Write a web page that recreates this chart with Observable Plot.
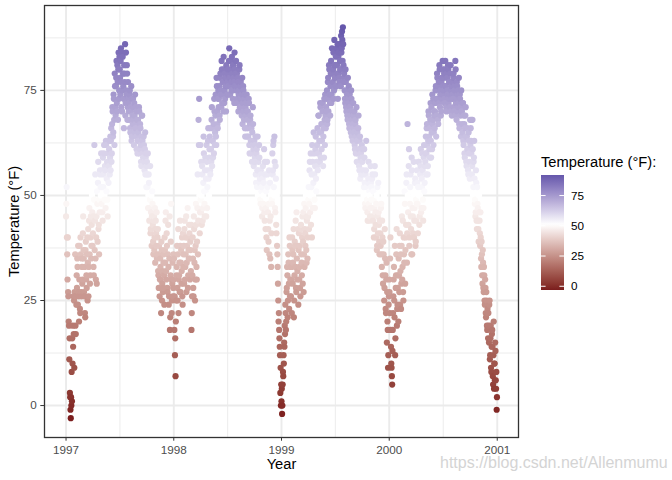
<!DOCTYPE html>
<html>
<head>
<meta charset="utf-8">
<script src="https://cdn.jsdelivr.net/npm/d3@7"></script>
<script src="https://cdn.jsdelivr.net/npm/@observablehq/plot@0.6"></script>
<style>
  html, body { margin: 0; padding: 0; background: #ffffff; }
  #wrap { position: relative; width: 672px; height: 480px; overflow: hidden;
          font-family: "Liberation Sans", Arial, Helvetica, sans-serif; }
  #wrap svg { position: absolute; left: 0; top: 0; }
</style>
</head>
<body>
<div id="wrap"></div>
<script>
// ---- Data: daily mean temperature (°F), Chicago 1997-2000 ----
// "even" arrays: days 0,2,4,... of each year; "odd" arrays: days 1,3,5,...
const years = [1997, 1998, 1999, 2000];

const t1997 = [
  45, 52, 36, 40, 26, 19, 16, 2, -3, 0, 1, 10, 14, 17, 9, 26,          // Jan
  19, 26, 31, 35, 24, 27, 20, 38, 22, 36, 26, 33, 30, 45,              // Feb
  35, 26, 22, 37, 30, 28, 40, 34, 26, 44, 36, 31, 45, 38, 50,          // Mar
  38, 45, 31, 62, 44, 35, 40, 29, 48, 53, 42, 36, 46, 55, 50,          // Apr
  48, 56, 44, 52, 60, 50, 57, 47, 62, 54, 49, 58, 53, 61, 55, 64,      // May
  63, 58, 67, 70, 65, 73, 62, 76, 69, 78, 72, 81, 68, 84, 75,          // Jun
  80, 74, 85, 77, 70, 83, 76, 66, 79, 86, 72, 75, 81, 68, 77,          // Jul
  72, 68, 75, 65, 70, 63, 73, 67, 71, 62, 69, 74, 66, 64, 70, 60,      // Aug
  68, 63, 70, 61, 66, 58, 64, 69, 60, 57, 62, 56, 65, 59, 52,          // Sep
  58, 52, 47, 55, 44, 49, 41, 46, 38, 51, 43, 36, 45, 40, 34,          // Oct
  44, 38, 35, 40, 32, 28, 36, 30, 33, 22, 37, 29, 27, 34, 31,          // Nov
  40, 34, 46, 30, 38, 27, 43, 24, 35, 18, 31, 48, 22, 29, 26, 36       // Dec
];
const t1997odd = [
  48, 40, 30, 27, 20, 11, 3, -1, 2, 8, 16, 19, 26, 25, 27, 36,         // Jan
  17, 24, 28, 33, 38, 26, 30, 23, 40, 27, 35, 29, 41, 37,              // Feb
  27, 33, 21, 39, 31, 36, 25, 42, 33, 47, 29, 40, 35, 43, 46,          // Mar
  41, 33, 49, 37, 55, 30, 45, 51, 39, 58, 43, 49, 56, 52, 60,          // Apr
  52, 46, 59, 55, 62, 49, 56, 63, 51, 58, 45, 60, 57, 63, 59, 56,      // May
  66, 60, 71, 64, 74, 68, 79, 71, 76, 82, 70, 77, 80, 73, 83,          // Jun
  78, 82, 71, 84, 75, 79, 73, 81, 77, 69, 84, 74, 79, 71, 73,          // Jul
  70, 74, 66, 71, 76, 64, 69, 73, 68, 72, 65, 67, 71, 61, 68, 63,      // Aug
  65, 71, 60, 67, 62, 57, 69, 63, 59, 64, 58, 61, 55, 60, 57,          // Sep
  55, 60, 50, 53, 47, 57, 42, 50, 45, 48, 39, 44, 37, 47, 42,          // Oct
  41, 46, 36, 42, 31, 38, 26, 35, 30, 39, 25, 32, 28, 36, 24,          // Nov
  37, 44, 32, 41, 28, 36, 33, 26, 45, 21, 39, 30, 25, 34, 28           // Dec
];
const t1998 = [
  30, 18, 12, 7, 25, 33, 28, 36, 22, 31, 27, 38, 34, 29, 40, 24,       // Jan
  33, 38, 42, 30, 36, 45, 34, 40, 28, 37, 43, 35, 39, 32,              // Feb
  18, 26, 40, 28, 45, 34, 25, 38, 43, 30, 47, 36, 68, 73, 41,          // Mar
  62, 46, 50, 57, 44, 53, 60, 48, 56, 51, 45, 58, 52, 63, 54,          // Apr
  59, 64, 55, 61, 68, 57, 63, 66, 60, 70, 65, 74, 62, 76, 67, 73,      // May
  71, 76, 68, 79, 74, 82, 72, 77, 70, 80, 75, 73, 78, 81, 76,          // Jun
  77, 80, 74, 85, 78, 76, 82, 75, 79, 73, 81, 77, 84, 76, 79,          // Jul
  75, 79, 72, 77, 74, 80, 71, 76, 73, 69, 78, 72, 75, 68, 74, 64,      // Aug
  72, 66, 70, 68, 64, 73, 62, 67, 69, 63, 60, 65, 71, 61, 58,          // Sep
  62, 58, 55, 60, 52, 64, 56, 50, 59, 54, 48, 55, 52, 47, 57,          // Oct
  50, 61, 44, 55, 47, 40, 58, 52, 42, 48, 36, 53, 45, 33, 49,          // Nov
  60, 56, 63, 50, 58, 46, 54, 41, 38, 33, 25, 22, 16, 12, 9, 5         // Dec
];
const t1998odd = [
  35, 26, 16, 20, 31, 38, 25, 42, 30, 34, 44, 27, 37, 32, 26, 41,      // Jan
  36, 29, 44, 33, 40, 27, 38, 47, 31, 35, 41, 30, 37, 43,              // Feb
  22, 31, 35, 26, 42, 37, 30, 48, 33, 39, 55, 44, 62, 50, 46,          // Mar
  49, 58, 43, 55, 47, 64, 51, 45, 59, 54, 62, 47, 56, 66, 50,          // Apr
  61, 56, 66, 58, 71, 63, 59, 67, 73, 62, 69, 64, 78, 70, 66, 75,      // May
  73, 69, 78, 75, 71, 80, 74, 77, 83, 72, 79, 76, 70, 78, 74,          // Jun
  79, 76, 82, 78, 74, 80, 77, 83, 75, 81, 78, 72, 80, 76, 82,          // Jul
  76, 73, 78, 70, 75, 81, 73, 77, 71, 74, 67, 76, 70, 73, 66, 71,      // Aug
  69, 74, 64, 70, 66, 72, 60, 68, 63, 66, 58, 62, 67, 57, 63,          // Sep
  59, 64, 53, 61, 56, 50, 58, 62, 53, 49, 56, 51, 45, 54, 48,          // Oct
  53, 46, 58, 42, 51, 37, 55, 46, 39, 56, 44, 35, 50, 41, 48,          // Nov
  55, 62, 52, 64, 47, 57, 43, 50, 36, 29, 20, 18, 14, 3, 0             // Dec
];
const t1999 = [
  1, -2, 5, 7, 10, 14, 17, 22, 20, 28, 31, 25, 34, 23, 38, 30,         // Jan
  26, 33, 40, 29, 36, 21, 31, 38, 44, 27, 35, 32, 42, 37,              // Feb
  30, 38, 26, 43, 34, 40, 29, 46, 36, 33, 41, 47, 37, 44, 35,          // Mar
  45, 52, 48, 58, 50, 43, 55, 62, 47, 53, 60, 49, 57, 64, 51,          // Apr
  57, 66, 60, 69, 63, 58, 71, 65, 61, 67, 72, 64, 59, 68, 74, 66,      // May
  70, 75, 68, 78, 73, 80, 72, 76, 82, 74, 79, 77, 84, 75, 81,          // Jun
  78, 83, 76, 81, 86, 79, 84, 77, 82, 80, 88, 85, 87, 90, 81,          // Jul
  79, 75, 72, 77, 70, 74, 68, 73, 76, 66, 71, 69, 75, 64, 70, 67,      // Aug
  69, 65, 62, 67, 60, 71, 63, 58, 66, 61, 56, 64, 59, 55, 62,          // Sep
  58, 55, 50, 61, 53, 47, 56, 52, 49, 44, 54, 48, 51, 45, 57,          // Oct
  52, 47, 55, 44, 49, 42, 57, 46, 40, 50, 38, 45, 53, 43, 36,          // Nov
  44, 38, 48, 33, 40, 29, 36, 25, 42, 31, 22, 34, 27, 18, 12, 26       // Dec
];
const t1999odd = [
  4, 0, 8, 12, 15, 19, 24, 18, 27, 33, 21, 36, 29, 40, 26, 33,         // Jan
  30, 22, 37, 34, 42, 25, 39, 33, 28, 46, 30, 38, 24, 41,              // Feb
  33, 28, 42, 36, 31, 45, 39, 27, 48, 42, 38, 50, 34, 45, 40,          // Mar
  49, 42, 56, 46, 60, 52, 40, 58, 50, 65, 55, 47, 61, 54, 58,          // Apr
  62, 56, 69, 60, 65, 72, 59, 67, 63, 70, 57, 66, 73, 62, 69, 71,      // May
  73, 67, 77, 70, 81, 74, 69, 79, 72, 85, 76, 80, 73, 87, 78,          // Jun
  81, 76, 85, 79, 73, 83, 78, 86, 80, 76, 84, 89, 82, 86, 78,          // Jul
  77, 73, 80, 71, 75, 69, 78, 72, 67, 74, 70, 65, 73, 68, 63, 72,      // Aug
  66, 70, 61, 68, 64, 58, 65, 60, 69, 57, 63, 54, 60, 56, 59,          // Sep
  61, 56, 52, 59, 48, 55, 63, 50, 46, 53, 58, 44, 50, 47, 53,          // Oct
  49, 54, 45, 51, 40, 47, 55, 43, 48, 37, 52, 41, 46, 39, 44,          // Nov
  41, 47, 36, 44, 31, 39, 50, 28, 35, 23, 30, 15, 20, 9, 24            // Dec
];
const t2000 = [
  30, 22, 40, 14, 9, 5, 18, 26, 33, 21, 12, 28, 36, 19, 24, 31,        // Jan
  35, 27, 41, 32, 23, 38, 30, 44, 25, 36, 51, 29, 40, 53, 34,          // Feb
  67, 46, 57, 38, 48, 55, 42, 59, 36, 45, 50, 40, 47, 54, 39,          // Mar
  44, 56, 48, 52, 58, 43, 50, 57, 46, 54, 60, 49, 47, 62, 53,          // Apr
  58, 64, 60, 67, 55, 63, 69, 61, 66, 72, 59, 65, 74, 68, 62, 70,      // May
  66, 72, 76, 69, 79, 73, 67, 77, 81, 71, 75, 70, 78, 74, 80,          // Jun
  75, 79, 72, 82, 76, 70, 78, 74, 80, 73, 77, 71, 81, 75, 69,          // Jul
  77, 73, 79, 70, 75, 82, 72, 68, 76, 74, 71, 78, 66, 73, 69, 75,      // Aug
  70, 65, 72, 62, 67, 59, 69, 64, 57, 66, 61, 55, 63, 58, 68,          // Sep
  66, 60, 55, 68, 50, 58, 63, 48, 45, 56, 44, 52, 47, 42, 50,          // Oct
  44, 38, 40, 33, 36, 29, 34, 27, 31, 24, 28, 21, 25, 18, 22,          // Nov
  22, 15, 25, 12, 19, 8, 17, 14, 5, 20, 10, 6, 13, 4, -1               // Dec
];
const t2000odd = [
  27, 35, 18, 10, 7, 13, 22, 30, 25, 38, 16, 31, 42, 23, 28, 20,       // Jan
  31, 38, 24, 36, 29, 45, 33, 27, 40, 34, 48, 37, 43, 55, 41,          // Feb
  50, 43, 61, 40, 52, 45, 36, 56, 47, 41, 58, 44, 53, 38, 49,          // Mar
  48, 53, 41, 58, 50, 45, 55, 61, 47, 52, 56, 44, 59, 51, 57,          // Apr
  60, 55, 66, 62, 57, 70, 64, 59, 68, 63, 71, 61, 67, 73, 65, 69,      // May
  70, 75, 64, 73, 78, 68, 76, 72, 80, 74, 69, 77, 73, 82, 76,          // Jun
  78, 73, 80, 76, 71, 79, 75, 81, 72, 77, 74, 79, 70, 76, 73,          // Jul
  74, 78, 71, 76, 69, 80, 73, 77, 70, 75, 72, 67, 74, 71, 64, 70,      // Aug
  67, 72, 63, 69, 60, 66, 71, 58, 64, 61, 56, 65, 60, 54, 62,          // Sep
  63, 68, 57, 61, 52, 59, 54, 49, 46, 53, 42, 48, 44, 39, 46,          // Oct
  41, 46, 35, 39, 31, 37, 28, 33, 25, 30, 22, 27, 19, 23, 16,          // Nov
  19, 24, 11, 16, 9, 14, 18, 7, 12, 4, 10, 15, 6, 8, 2                 // Dec
];
const evenSeries = [t1997, t1998, t1999, t2000];
const oddSeries = [t1997odd, t1998odd, t1999odd, t2000odd];

// Axis breaks and limits
const yTicks = [0, 25, 50, 75];
const yMinor = [12.5, 37.5, 62.5, 87.5];
const yLimits = [-7.6, 95.2];
const xTickYears = [1997, 1998, 1999, 2000, 2001];
const xMinorYears = [1997, 1998, 1999, 2000];

// Texts
const xTitle = "Year";
const yTitle = "Temperature (°F)";
const legendTitle = "Temperature (°F):";
const watermark = "https://blog.csdn.net/Allenmumu";

// Colours
const lowColor = "#7b1d1d";
const midColor = "#ffffff";
const highColor = "#6557ab";
const pivot = 50;

// ---- Build table ----
const DAY = 864e5;
const data = [];
years.forEach((y, k) => {
  const start = Date.UTC(y, 0, 1);
  const rows = [];
  evenSeries[k].forEach((t, i) => rows.push({date: new Date(start + (2 * i) * DAY), temp: t}));
  oddSeries[k].forEach((t, i) => rows.push({date: new Date(start + (2 * i + 1) * DAY), temp: t}));
  rows.sort((a, b) => a.date - b.date);
  data.push(...rows);
});
const [tMin, tMax] = d3.extent(data, d => d.temp);

const xTicks = xTickYears.map(y => new Date(Date.UTC(y, 0, 1)));
const xMinor = xMinorYears.map(y => new Date((Date.UTC(y, 0, 1) + Date.UTC(y + 1, 0, 1)) / 2));
const x0 = Date.UTC(1997, 0, 1), x1 = Date.UTC(2000, 11, 31);
const xPad = (x1 - x0) * 0.05;

const FONT = '"Liberation Sans", Arial, Helvetica, sans-serif';
const GRID = "#ebebeb";

const plot = Plot.plot({
  width: 520,
  height: 480,
  marginLeft: 44,
  marginRight: 2,
  marginTop: 5,
  marginBottom: 43,
  style: {fontFamily: FONT, background: "transparent", overflow: "visible"},
  x: {type: "utc", domain: [new Date(x0 - xPad), new Date(x1 + xPad)]},
  y: {domain: yLimits},
  color: {type: "linear", domain: [tMin, pivot, tMax], range: [lowColor, midColor, highColor], interpolate: "lab"},
  marks: [
    Plot.ruleY(yMinor, {stroke: GRID, strokeWidth: 0.95}),
    Plot.ruleX(xMinor, {stroke: GRID, strokeWidth: 0.95}),
    Plot.ruleY(yTicks, {stroke: GRID, strokeWidth: 1.9}),
    Plot.ruleX(xTicks, {stroke: GRID, strokeWidth: 1.9}),
    Plot.dot(data, {x: "date", y: "temp", fill: "temp", r: 3.1}),
    Plot.frame({stroke: "#333333", strokeWidth: 1.3}),
    Plot.axisY(yTicks, {tickSize: 3.7, tickPadding: 4, fontSize: 11.7, fill: "#4d4d4d", stroke: "#333333", label: null}),
    Plot.axisX(xTicks, {tickSize: 3.7, tickPadding: 4, fontSize: 11.7, fill: "#4d4d4d", stroke: "#333333",
                        tickFormat: d => String(d.getUTCFullYear()), label: null}),
    Plot.text([xTitle], {text: d => d, frameAnchor: "bottom", dy: 31, fontSize: 14.7, fill: "#000000"}),
    Plot.text([yTitle], {text: d => d, frameAnchor: "left", textAnchor: "middle", dx: -30, rotate: -90,
                         fontSize: 14.7, fill: "#000000"})
  ]
});
document.getElementById("wrap").appendChild(plot);

// ---- Legend (colour bar) using the plot's colour scale ----
const cs = plot.scale("color");
const svg = d3.select("#wrap").append("svg")
  .attr("width", 672).attr("height", 480)
  .style("pointer-events", "none")
  .attr("font-family", FONT);

const barX = 541, barW = 23, barTop = 175, barBottom = 290;
const ly = d3.scaleLinear().domain([-3.1, 92]).range([barBottom, barTop]);
const grad = svg.append("defs").append("linearGradient")
  .attr("id", "cbar").attr("x1", 0).attr("y1", 1).attr("x2", 0).attr("y2", 0);
const nStops = 40;
for (let i = 0; i <= nStops; i++) {
  const v = tMin + (tMax - tMin) * i / nStops;
  grad.append("stop").attr("offset", i / nStops).attr("stop-color", cs.apply(v));
}
svg.append("rect").attr("x", barX).attr("y", barTop).attr("width", barW).attr("height", barBottom - barTop)
  .attr("fill", "url(#cbar)");
yTicks.forEach(v => {
  const y = ly(v);
  svg.append("line").attr("x1", barX).attr("x2", barX + barW / 5).attr("y1", y).attr("y2", y)
    .attr("stroke", "#ffffff").attr("stroke-width", 1);
  svg.append("line").attr("x1", barX + barW * 4 / 5).attr("x2", barX + barW).attr("y1", y).attr("y2", y)
    .attr("stroke", "#ffffff").attr("stroke-width", 1);
  svg.append("text").attr("x", barX + barW + 7).attr("y", y).attr("dy", "0.35em")
    .attr("font-size", 11.7).attr("fill", "#000000").text(String(v));
});
svg.append("text").attr("x", barX).attr("y", 167).attr("font-size", 14.7).attr("fill", "#000000").text(legendTitle);

// watermark
svg.append("text").attr("x", 440).attr("y", 468).attr("font-size", 16).attr("fill", "#d4d4d4").text(watermark);
</script>
</body>
</html>
